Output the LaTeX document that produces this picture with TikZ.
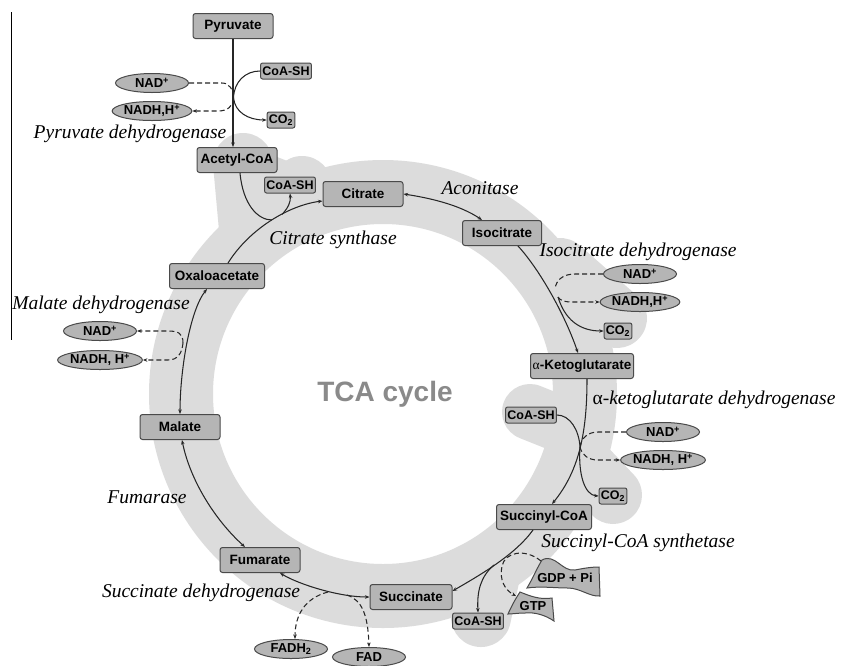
\documentclass[tikz,border=0pt]{standalone}
\usepackage{fontspec}
\setmainfont{Liberation Serif}
\setsansfont{Liberation Sans}
\usetikzlibrary{arrows.meta,shapes.geometric}
\definecolor{bandgray}{HTML}{DCDCDC}
\definecolor{boxfill}{HTML}{B5B5B5}
\definecolor{boxdraw}{HTML}{4A4A4A}
\definecolor{linecol}{HTML}{262626}
\definecolor{tcagray}{HTML}{8A8A8A}
\begin{document}
\begin{tikzpicture}[x=1pt,y=-1pt,
  mainbox/.style={draw=boxdraw, fill=boxfill, rounded corners=2.5pt, line width=1pt, minimum height=25pt, inner sep=0pt, font=\sffamily\bfseries\fontsize{13.5}{14}\selectfont},
  smallbox/.style={draw=boxdraw, fill=boxfill, rounded corners=2pt, line width=1pt, minimum height=16pt, inner sep=1.8pt, font=\sffamily\bfseries\fontsize{12.5}{13}\selectfont},
  cof/.style={draw=boxdraw, fill=boxfill, ellipse, minimum width=73pt, minimum height=19pt, inner sep=0pt, line width=1pt, font=\sffamily\bfseries\fontsize{13}{13}\selectfont},
  enz/.style={font=\itshape\fontsize{19.5}{20}\selectfont, inner sep=0pt},
  tca/.style={font=\sffamily\bfseries\fontsize{28}{30}\selectfont, text=tcagray, inner sep=0pt},
  rxn/.style={draw=linecol, line width=1.05pt},
  arr/.style={rxn, -{Stealth[length=4.5pt,width=3.5pt]}},
  darr/.style={rxn, {Stealth[length=4.5pt,width=3.5pt]}-{Stealth[length=4.5pt,width=3.5pt]}},
  dsh/.style={rxn, dash pattern=on 5pt off 3pt},
  darrow/.style={dsh, -{Stealth[length=4.5pt,width=3.5pt]}},
  bandline/.style={draw=bandgray, line cap=round, line width=60pt},
  tape/.style={draw=boxdraw, fill=boxfill, line width=1pt},
]
\useasboundingbox (0,0) rectangle (842,665);
\fill[white] (0,0) rectangle (842,665);

% ---- grey background band and lobes ----
\draw[draw=bandgray, line width=64pt] (383,394) circle[radius=202];
\draw[bandline] (243,163) -- (250,240);
\draw[bandline, line width=36pt] (243,163) -- (302,186);
\fill[bandgray] (302,186) circle[radius=30];
\draw[bandline] (560,268) -- (617,318);
\draw[bandline, line width=56pt] (575,430) -- (530,412);
\draw[bandline, line width=58pt] (580,460) -- (613,495);
\draw[bandline] (490,575) -- (481,617);

% ---- stray vertical rule ----
\draw[black, line width=1pt] (11,12) -- (11,340);

% ---- nodes ----
\node[mainbox, minimum width=80pt] (pyr) at (233,26) {Pyruvate};
\node[smallbox] (coa1) at (286,71) {CoA-SH};
\node[cof] (nad1) at (152,83) {NAD\textsuperscript{+}};
\node[cof] (nadh1) at (152,111) {NADH,H\textsuperscript{+}};
\node[smallbox] (co1) at (281,120) {CO\textsubscript{2}};
\node[enz] (pdh) at (130,134) {Pyruvate dehydrogenase};
\node[mainbox, minimum width=80pt] (acoa) at (237,160) {Acetyl-CoA};
\node[smallbox] (coa2) at (290,185) {CoA-SH};
\node[mainbox, minimum width=80pt] (cit) at (363,194) {Citrate};
\node[enz] (acon) at (480,188) {Aconitase};
\node[mainbox, minimum width=79pt] (iso) at (502,233) {Isocitrate};
\node[enz] (cs) at (333,240) {Citrate synthase};
\node[mainbox, minimum width=95pt] (oaa) at (217,276) {Oxaloacetate};
\node[enz] (idh) at (638,252) {Isocitrate dehydrogenase};
\node[cof] (nad2) at (640,274) {NAD\textsuperscript{+}};
\node[cof] (nadh2) at (640,302) {NADH,H\textsuperscript{+}};
\node[smallbox] (co2) at (618,331) {CO\textsubscript{2}};
\node[mainbox, minimum width=103pt] (akg) at (582,366) {{\rmfamily\mdseries α}-Ketoglutarate};
\node[enz] (mdh) at (101,305) {Malate dehydrogenase};
\node[cof] (nad3) at (100,331) {NAD\textsuperscript{+}};
\node[cof] (nadh3) at (100,360) {NADH, H\textsuperscript{+}};
\node[mainbox, minimum width=80pt] (mal) at (180,427) {Malate};
\node[tca] (tcal) at (385,394) {TCA cycle};
\node[enz] (kgdh) at (714,400) {{\upshape α}-ketoglutarate dehydrogenase};
\node[smallbox] (coa3) at (531,415) {CoA-SH};
\node[cof] (nad4) at (663,432) {NAD\textsuperscript{+}};
\node[cof] (nadh4) at (663,460) {NADH, H\textsuperscript{+}};
\node[smallbox] (co3) at (613,496) {CO\textsubscript{2}};
\node[mainbox, minimum width=95pt] (scoa) at (544,517) {Succinyl-CoA};
\node[enz] (fumase) at (147,497) {Fumarase};
\node[enz] (scs) at (638,543) {Succinyl-CoA synthetase};
\node[mainbox, minimum width=80pt] (fum) at (260,560) {Fumarate};
\node[mainbox, minimum width=82pt] (suc) at (411,597) {Succinate};
\node[smallbox] (coa4) at (478,621) {CoA-SH};
\node[enz] (sdh) at (201,593) {Succinate dehydrogenase};
\node[cof] (fadh) at (291,649) {FADH\textsubscript{2}};
\node[cof] (fad) at (369,657) {FAD};

% GDP + Pi and GTP tape shapes
\draw[tape] (527,588) .. controls (533,578) and (537,568) .. (542,560) .. controls (555,553) and (562,572) .. (575,570) .. controls (585,568) and (592,567) .. (599,567) -- (600,596) .. controls (590,597) and (580,588) .. (568,588) .. controls (555,588) and (540,586) .. (527,588) -- cycle;
\node[font=\sffamily\bfseries\fontsize{13}{13}\selectfont, inner sep=0pt] (gdp) at (565,578) {GDP + Pi};
\draw[tape] (508,614) .. controls (512,605) and (516,598) .. (520,592) .. controls (530,596) and (540,600) .. (552,598) -- (554,621) .. controls (545,615) and (535,612) .. (525,613) .. controls (518,613) and (512,614) .. (508,614) -- cycle;
\node[font=\sffamily\bfseries\fontsize{13}{13}\selectfont, inner sep=0pt] (gtp) at (533,606) {GTP};
\coordinate (gdptl) at (541,561);
\coordinate (gtpl) at (516,596);

% ---- pyruvate dehydrogenase ----
\coordinate (j1) at (233.5,98);
\draw[arr] (pyr.south) -- (pyr.south |- acoa.north);
\draw[rxn] (coa1.west) .. controls (245,71) and (234,82) .. (j1);
\draw[arr] (j1) .. controls (235,112) and (248,120) .. (co1.west);
\draw[dsh] (nad1.east) -- (222,83) .. controls (230,83) and (233,90) .. (j1);
\draw[darrow] (j1) .. controls (233,106) and (228,111) .. (218,111) -- (nadh1.east);

% ---- citrate synthase ----
\coordinate (j8) at (272,220);
\coordinate (j9) at (282,214.5);
\draw[arr] ([xshift=11pt]oaa.north) .. controls (250,228) and (290,205) .. ([yshift=-7pt]cit.west);
\draw[rxn] ([xshift=3pt]acoa.south) .. controls (243,205) and (258,220) .. (j8);
\draw[arr] (j9) .. controls (288,208) and (291,202) .. (coa2.south);

% ---- aconitase ----
\draw[darr] (cit.east) .. controls (430,198) and (460,205) .. ([xshift=-20pt]iso.north);

% ---- isocitrate dehydrogenase ----
\coordinate (j2) at (555,289);
\coordinate (j2b) at (558,297);
\draw[arr] ([xshift=16pt]iso.south) .. controls (540,270) and (565,315) .. ([xshift=-4pt]akg.north);
\draw[dsh] (nad2.west) -- (575,274) .. controls (563,274) and (556,280) .. (j2);
\draw[darrow] (j2b) .. controls (560,300) and (563,302) .. (572,302) -- (nadh2.west);
\draw[arr] (j2b) .. controls (565,320) and (580,331) .. (co2.west);

% ---- alpha-ketoglutarate dehydrogenase ----
\coordinate (j3) at (580,447);
\draw[arr] ([xshift=5pt]akg.south) .. controls (587,430) and (580,470) .. ([xshift=8pt]scoa.north);
\draw[rxn] (coa3.east) .. controls (570,415) and (579,430) .. (j3);
\draw[dsh] (nad4.west) -- (598,432) .. controls (588,432) and (581,438) .. (j3);
\draw[darrow] (j3) .. controls (582,455) and (588,460) .. (598,460) -- (nadh4.west);
\draw[arr] (j3) .. controls (578,475) and (585,495) .. (co3.west);

% ---- succinyl-CoA synthetase ----
\coordinate (j4) at (494,565);
\draw[arr] ([xshift=-11pt]scoa.south) .. controls (515,555) and (480,575) .. ([yshift=6pt]suc.east);
\draw[arr] (j4) .. controls (480,577) and (477,592) .. (coa4.north);
\draw[darrow] (gdptl) .. controls (525,548) and (505,552) .. (502,566) .. controls (499,580) and (505,590) .. (gtpl);

% ---- succinate dehydrogenase ----
\coordinate (j5) at (328,592);
\coordinate (j6) at (347,595);
\draw[darr] (suc.west) .. controls (340,597) and (300,585) .. ([xshift=20pt]fum.south);
\draw[darrow] (j5) .. controls (305,598) and (295,615) .. ([xshift=4pt]fadh.north);
\draw[darrow] (j6) .. controls (362,600) and (368,615) .. (fad.north);

% ---- fumarase ----
\draw[darr] ([xshift=2pt]mal.south) .. controls (190,480) and (215,520) .. ([xshift=-15pt]fum.north);

% ---- malate dehydrogenase ----
\coordinate (j7) at (183,343);
\draw[darr] (mal.north) .. controls (180,370) and (190,310) .. ([xshift=-10pt]oaa.south);
\draw[darrow] (j7) .. controls (183,333) and (178,331) .. (168,331) -- (nad3.east);
\draw[darrow] (j7) .. controls (182,353) and (178,360) .. (168,360) -- (nadh3.east);
\end{tikzpicture}
\end{document}
